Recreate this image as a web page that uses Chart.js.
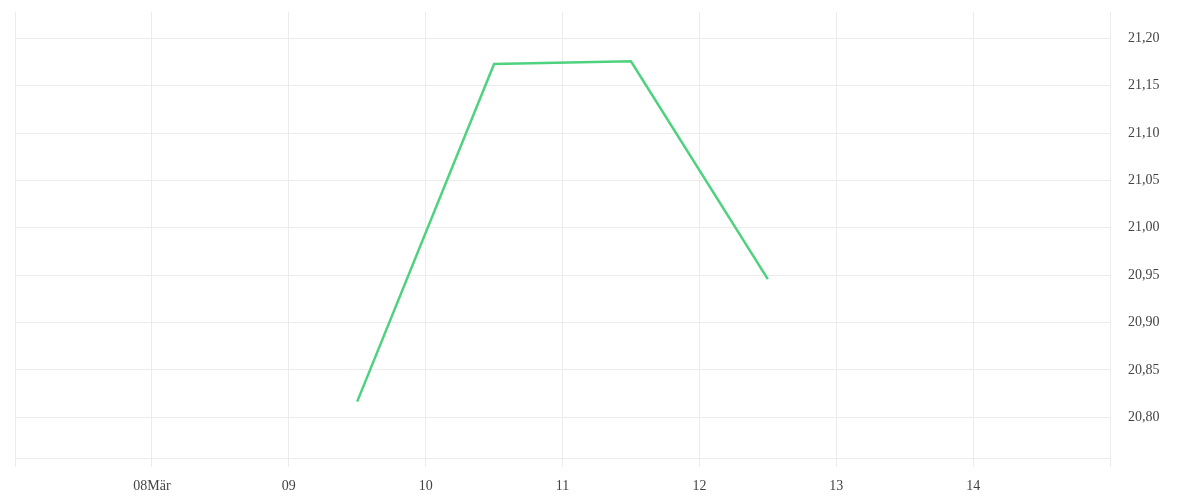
<!DOCTYPE html>
<html>
<head>
<meta charset="utf-8">
<script src="https://cdn.jsdelivr.net/npm/chart.js@4/dist/chart.umd.min.js"></script>
<style>
  html, body { margin: 0; padding: 0; background: #fff; }
  #wrap { width: 1200px; height: 500px; }
</style>
</head>
<body>
<div id="wrap"><canvas id="line-chart"></canvas></div>
<script>
// days in March (x) and value (y)
const days = [9.5, 10.5, 11.5, 12.5];
const values = [20.8165, 21.173, 21.1758, 20.9458];
// tick labels for day 7 .. 15
const dayLabels = ['', '08Mär', '09', '10', '11', '12', '13', '14', ''];

const ctx = document.getElementById("line-chart");

const points = days.map((d, i) => ({ x: d, y: values[i] }));

const gridColor = '#ececec';
const textColor = '#444444';

const chart = new Chart(ctx, {
    type: 'line',
    data: {
        datasets: [{
            data: points,
            borderColor: '#4ed27e',
            borderWidth: 2.5,
            pointRadius: 0,
            tension: 0,
            fill: false
        }]
    },
    options: {
        responsive: true,
        maintainAspectRatio: false,
        animation: false,
        layout: {
            padding: { top: 12, left: 15, right: 0, bottom: 0 }
        },
        plugins: {
            legend: { display: false },
            tooltip: { enabled: false }
        },
        scales: {
            x: {
                type: 'linear',
                min: 7,
                max: 15,
                grid: {
                    color: gridColor,
                    tickLength: 9,
                    tickColor: gridColor
                },
                border: { color: gridColor },
                ticks: {
                    stepSize: 1,
                    autoSkip: false,
                    maxRotation: 0,
                    padding: 11,
                    color: textColor,
                    font: { family: 'Liberation Serif', size: 14 },
                    callback: (v) => dayLabels[v - 7]
                },
                afterFit: (scale) => {
                    scale.height = 42;
                    scale.paddingLeft = 0;
                    scale.paddingRight = 0;
                }
            },
            y: {
                position: 'right',
                min: 20.757,
                max: 21.2278,
                grid: {
                    color: gridColor,
                    drawTicks: false
                },
                border: { color: gridColor },
                ticks: {
                    stepSize: 0.05,
                    includeBounds: false,
                    padding: 18,
                    color: textColor,
                    font: { family: 'Liberation Serif', size: 14 },
                    callback: (v) => v.toFixed(2).replace('.', ',')
                },
                afterFit: (scale) => {
                    scale.width = 90;
                    scale.paddingTop = 0;
                    scale.paddingBottom = 0;
                }
            }
        }
    }
});
</script>
</body>
</html>
